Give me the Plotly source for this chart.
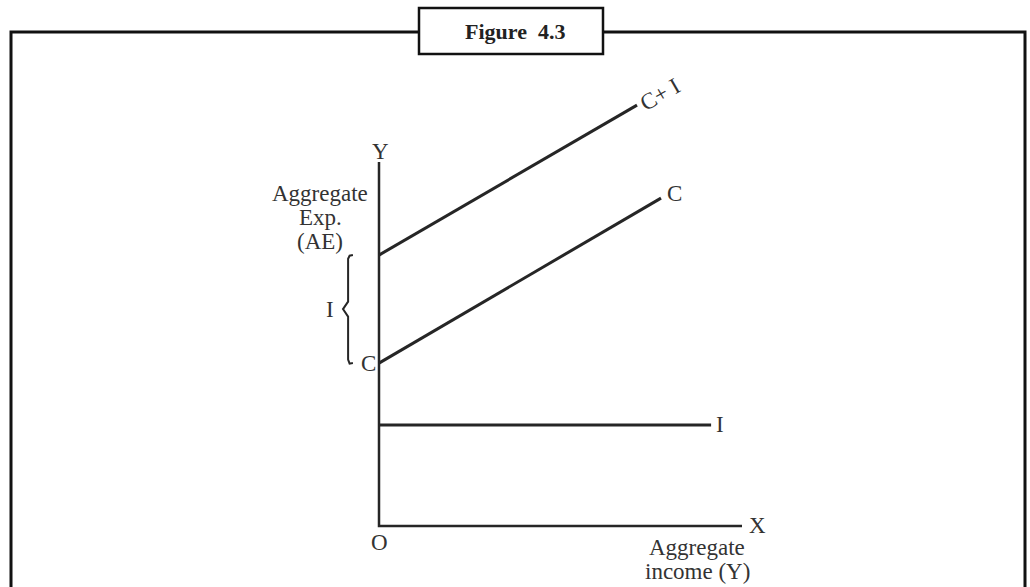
import plotly.graph_objects as go

# ---- data (diagram units) ----
income_axis_end = 12.1          # length of X axis
ae_axis_end = 12.13             # height of Y axis
line_names = ["C+ I", "C", "I"]
line_intercepts = [9.03, 5.43, 3.37]
line_x_end = [8.6, 9.4, 11.07]
line_y_end = [14.03, 10.93, 3.37]

W, H = 1030, 587
S = 30.0                # pixels per unit
X0_PX, Y0_PX = 379, 526  # origin position in pixels

fig = go.Figure()
ink = "#262626"
font_family = "Liberation Serif, Times New Roman, serif"

# axes
fig.add_trace(go.Scatter(x=[0, 0, income_axis_end], y=[ae_axis_end, 0, 0], mode="lines",
                         line=dict(color=ink, width=2.5), hoverinfo="skip", showlegend=False))
# the three lines
for name, b, xe, ye in zip(line_names, line_intercepts, line_x_end, line_y_end):
    fig.add_trace(go.Scatter(x=[0, xe], y=[b, ye], mode="lines", name=name,
                             line=dict(color=ink, width=3), hoverinfo="skip", showlegend=False))

# brace between C intercept and C+I intercept
top, bot = line_intercepts[0], line_intercepts[1]
mid = (top + bot) / 2
bx_tip, bx_v, bx_pt = -0.87, -1.03, -1.2
r = 0.12
brace_x = [bx_tip, bx_v + 0.05, bx_v, bx_v, bx_pt, bx_v, bx_v, bx_v + 0.05, bx_tip]
brace_y = [top, top - 0.02, top - r, mid + 0.25, mid, mid - 0.25, bot + r, bot - 0.02, bot]
fig.add_trace(go.Scatter(x=brace_x, y=brace_y, mode="lines",
                         line=dict(color=ink, width=2), hoverinfo="skip", showlegend=False))

def ann(text, x, y, xs=0, ys=0, size=23, angle=0, **kw):
    fig.add_annotation(text=text, x=x, y=y, xref="x", yref="y", xshift=xs, yshift=ys,
                       showarrow=False, textangle=angle, xanchor="center", yanchor="middle",
                       font=dict(family=font_family, size=size, color="#333"), **kw)

ann("Y", 0, ae_axis_end, xs=1, ys=11)
ann("X", income_axis_end, 0, xs=15, ys=1)
ann("O", 0, 0, xs=0, ys=-16)
ann("Aggregate", income_axis_end, 0, xs=-45, ys=-21)
ann("income (Y)", income_axis_end, 0, xs=-45, ys=-45)
ann("C+ I", line_x_end[0], line_y_end[0], xs=23, ys=11, angle=-30)
ann("C", line_x_end[1], line_y_end[1], xs=13, ys=5)
ann("I", line_x_end[2], line_y_end[2], xs=9, ys=0)
ann("C", 0, line_intercepts[1], xs=-11, ys=0)
ann("I", bx_pt, mid, xs=-13, ys=0)
ann("Aggregate", 0, ae_axis_end, xs=-59, ys=-31)
ann("Exp.", 0, ae_axis_end, xs=-59, ys=-55)
ann("(AE)", 0, ae_axis_end, xs=-59, ys=-79)

# frame and title box (paper coords)
def px_x(p): return p / W
def px_y(p): return 1 - p / H
fig.add_shape(type="rect", xref="paper", yref="paper",
              x0=px_x(11), x1=px_x(1025), y0=px_y(620), y1=px_y(32),
              line=dict(color="#111", width=3), fillcolor="rgba(0,0,0,0)", layer="below")
fig.add_shape(type="rect", xref="paper", yref="paper",
              x0=px_x(419), x1=px_x(603), y0=px_y(54), y1=px_y(8),
              line=dict(color="#111", width=2.5), fillcolor="white", layer="above")
fig.add_annotation(text="<b>Figure  4.3</b>", xref="paper", yref="paper",
                   x=px_x(515), y=px_y(31), xanchor="center", yanchor="middle", showarrow=False,
                   font=dict(family=font_family, size=22, color="#222"))

fig.update_xaxes(visible=False, range=[-X0_PX / S, (W - X0_PX) / S])
fig.update_yaxes(visible=False, range=[-(H - Y0_PX) / S, Y0_PX / S])
fig.update_layout(width=W, height=H, margin=dict(l=0, r=0, t=0, b=0),
                  plot_bgcolor="white", paper_bgcolor="white", hovermode=False)

fig.write_html("out.html", config={"displayModeBar": False},
               post_script="document.body.style.margin='0';document.body.style.overflow='hidden';")
